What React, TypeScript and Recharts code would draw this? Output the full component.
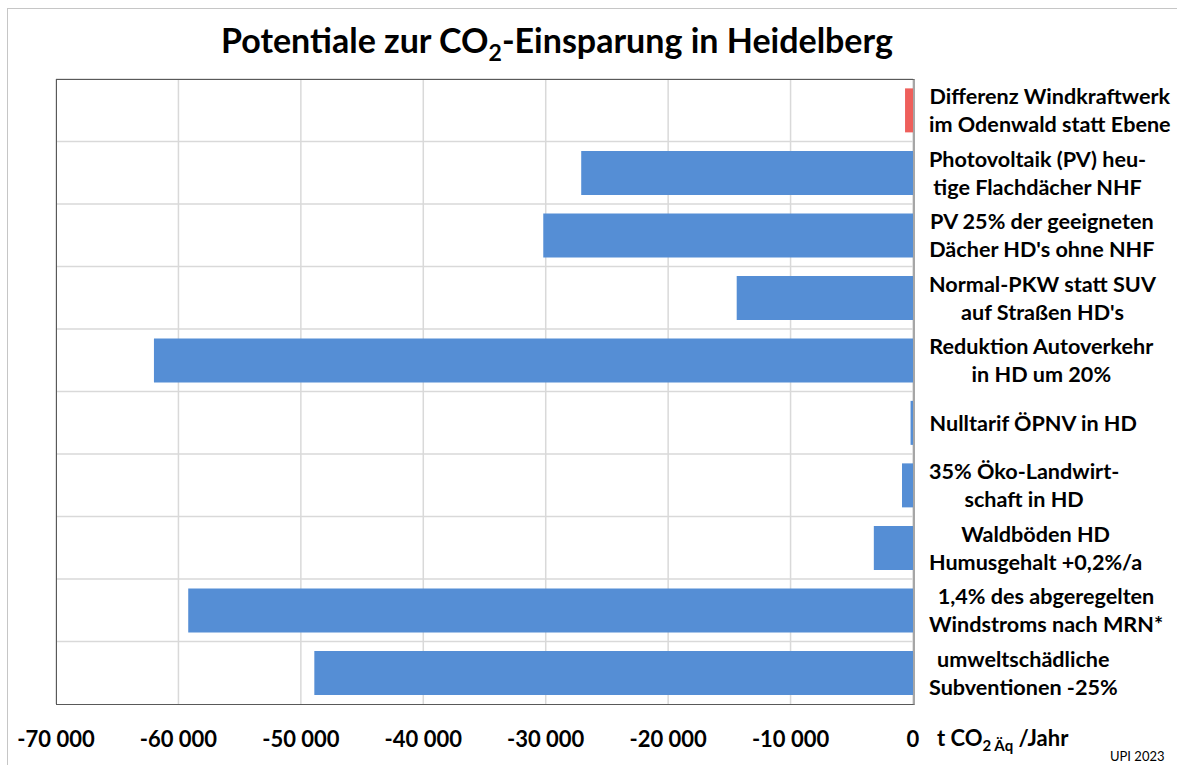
import React from "react";
import {
  BarChart,
  Bar,
  Cell,
  XAxis,
  YAxis,
  CartesianGrid,
} from "recharts";

const categories = [
  "Differenz Windkraftwerk\nim Odenwald statt Ebene",
  "Photovoltaik (PV) heu-\ntige Flachdächer NHF",
  "PV 25% der geeigneten\nDächer HD's ohne NHF",
  "Normal-PKW statt SUV\nauf Straßen HD's",
  "Reduktion Autoverkehr\nin HD um 20%",
  "Nulltarif ÖPNV in HD",
  "35% Öko-Landwirt-\nschaft in HD",
  "Waldböden HD\nHumusgehalt +0,2%/a",
  "1,4% des abgeregelten\nWindstroms nach MRN*",
  "umweltschädliche\nSubventionen -25%",
];

// t CO2-Äq per year
const savings = [-650, -27100, -30200, -14400, -62000, -200, -900, -3200, -59200, -48900];

const xTicks = [-70000, -60000, -50000, -40000, -30000, -20000, -10000, 0];

const BLUE = "#558ed5";
const RED = "#ee5f5b";
const COLORS = [RED, BLUE, BLUE, BLUE, BLUE, BLUE, BLUE, BLUE, BLUE, BLUE];

const data = categories.map((name, i) => ({ name, value: savings[i] }));

const FONT = "Lato, 'Noto Sans', sans-serif";
const LABEL_SIZE = 21.6;

let ctx: CanvasRenderingContext2D | null = null;
function textWidth(s: string) {
  if (!ctx) ctx = document.createElement("canvas").getContext("2d");
  if (!ctx) return s.length * LABEL_SIZE * 0.5;
  ctx.font = `bold ${LABEL_SIZE}px Lato`;
  return ctx.measureText(s).width;
}

function fmt(v: number) {
  const s = Math.abs(v).toString().replace(/\B(?=(\d{3})+(?!\d))/g, " ");
  return (v < 0 ? "-" : "") + s;
}

function CategoryTick(props: any) {
  const { x, y, payload } = props;
  const lines: string[] = String(payload.value).split("\n");
  const maxW = Math.max(...lines.map(textWidth));
  const cx = x + maxW / 2;
  return (
    <g>
      {lines.map((l, i) => (
        <text
          key={i}
          x={cx}
          y={y + (i - (lines.length - 1) / 2) * 28}
          dy="0.36em"
          textAnchor="middle"
          fontFamily={FONT}
          fontWeight="bold"
          fontSize={LABEL_SIZE}
          fill="#000"
        >
          {l}
        </text>
      ))}
    </g>
  );
}

export default function App() {
  return (
    <div
      style={{
        position: "fixed",
        left: 0,
        top: 0,
        width: 1177,
        height: 765,
        overflow: "hidden",
        background: "#fff",
        fontFamily: FONT,
      }}
    >
      <div
        style={{
          position: "absolute",
          left: 7,
          top: 8,
          width: 1300,
          height: 900,
          border: "1px solid #c6c6c6",
        }}
      />
      <div
        style={{
          position: "absolute",
          left: 0,
          width: 1114,
          top: 19,
          textAlign: "center",
          fontWeight: "bold",
          fontSize: 34,
          color: "#000",
        }}
      >
        Potentiale zur CO<sub style={{ fontSize: 23 }}>2</sub>-Einsparung in Heidelberg
      </div>
      <BarChart
        width={1177}
        height={765}
        data={data}
        layout="vertical"
        margin={{ top: 79, left: 56, right: 0, bottom: 11 }}
        barCategoryGap="15%"
      >
        <CartesianGrid
          stroke="#d9d9d9"
          strokeWidth={1.5}
          horizontalCoordinatesGenerator={({ offset }: any) =>
            categories.map((_, i) => offset.top + (i * offset.height) / categories.length)
          }
        />
        <XAxis
          type="number"
          domain={[-70000, 0]}
          ticks={xTicks}
          tickFormatter={fmt}
          axisLine={false}
          tickLine={false}
          tickSize={0}
          tickMargin={27}
          height={50}
          tick={{ fontFamily: FONT, fontWeight: "bold", fontSize: 22, fill: "#000" }}
          interval={0}
        />
        <YAxis
          type="category"
          dataKey="name"
          orientation="right"
          width={264}
          axisLine={false}
          tickLine={false}
          tickSize={0}
          tickMargin={16}
          interval={0}
          tick={<CategoryTick />}
        />
        <Bar dataKey="value" isAnimationActive={false}>
          {data.map((d, i) => (
            <Cell key={`cell-${i}`} fill={COLORS[i % COLORS.length]} />
          ))}
        </Bar>
      </BarChart>
      <div
        style={{
          position: "absolute",
          left: 56,
          top: 79,
          width: 856,
          height: 624,
          borderLeft: "1.5px solid #595959",
          borderTop: "1.5px solid #595959",
          borderBottom: "1.5px solid #595959",
          borderRight: "2px solid #a6a6a6",
          pointerEvents: "none",
        }}
      />
      <div
        style={{
          position: "absolute",
          left: 937,
          top: 724,
          fontWeight: "bold",
          fontSize: 22,
          color: "#000",
          whiteSpace: "nowrap",
        }}
      >
        t CO<sub style={{ fontSize: 15 }}>2 Äq</sub> /Jahr
      </div>
      <div
        style={{
          position: "absolute",
          left: 1110,
          top: 748,
          fontSize: 13,
          color: "#000",
        }}
      >
        UPI 2023
      </div>
    </div>
  );
}
